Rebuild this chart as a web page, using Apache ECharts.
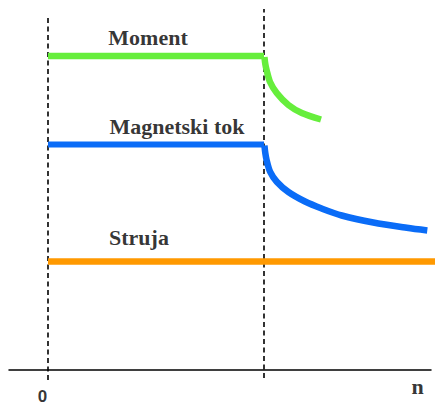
<!DOCTYPE html>
<html>
<head>
<meta charset="utf-8">
<script src="https://cdn.jsdelivr.net/npm/echarts@6/dist/echarts.min.js"></script>
<style>html,body{margin:0;padding:0;background:#fff;}#c{width:438px;height:405px;}</style>
</head>
<body>
<div id="c"></div>
<script>
// ---- data (x: speed n, break point n = 1; y: relative magnitude) ----
const seriesNames = ['Moment', 'Magnetski tok', 'Struja'];
const nBreak = 1;
const momentFlat = [[0, 3.14], [1, 3.14]];
const momentCurve = [[1.002, 3.13], [1.006, 3.06], [1.012, 3.00], [1.028, 2.88], [1.059, 2.77], [1.113, 2.65], [1.175, 2.57], [1.264, 2.505]];
const fluxFlat = [[0, 2.255], [1, 2.255]];
const fluxCurve = [[1.002, 2.245], [1.006, 2.17], [1.012, 2.10], [1.028, 1.983], [1.059, 1.883], [1.113, 1.78], [1.19, 1.685], [1.267, 1.615], [1.36, 1.545], [1.506, 1.475], [1.661, 1.422], [1.756, 1.395]];
const currentLine = [[0, 1.085], [1.806, 1.085]];
const refLine0 = [[0, -0.10], [0, 3.53]];
const refLineBreak = [[1, -0.08], [1, 3.61]];
const axisLabels = ['0', 'n'];

// ---- label anchors ----
const labelAnchors = [
  { name: 'Moment', value: [0.463, 3.33], font: 'serif' },
  { name: 'Magnetski tok', value: [0.597, 2.44], font: 'serif' },
  { name: 'Struja', value: [0.421, 1.33], font: 'serif' },
  { name: axisLabels[0], value: [-0.025, -0.26], font: 'sans' },
  { name: axisLabels[1], value: [1.711, -0.165], font: 'serif' }
];

const chart = echarts.init(document.getElementById('c'), null, { renderer: 'svg' });
const dashStyle = { color: '#000', width: 1.6, type: [5, 3.5] };
function lineSeries(data, color, width, smooth) {
  return {
    type: 'line', data: data, showSymbol: false, symbol: 'none', clip: false,
    smooth: smooth ? 0.3 : false,
    lineStyle: { color: color, width: width, cap: 'butt', join: 'round' },
    silent: true, animation: false, z: 3
  };
}
chart.setOption({
  animation: false,
  grid: { left: 9, right: 7, top: 0, bottom: 35 },
  xAxis: {
    type: 'value', min: -39 / 216, max: 383 / 216,
    axisLine: { show: true, onZero: true, lineStyle: { color: '#000', width: 1.5 } },
    axisTick: { show: false }, axisLabel: { show: false }, splitLine: { show: false }
  },
  yAxis: {
    type: 'value', min: 0, max: 3.7, show: false,
    axisLine: { show: false }, splitLine: { show: false }
  },
  series: [
    Object.assign(lineSeries(refLine0, '#000', 1.6, false), { lineStyle: dashStyle, z: 2 }),
    Object.assign(lineSeries(refLineBreak, '#000', 1.6, false), { lineStyle: dashStyle, z: 2 }),
    Object.assign(lineSeries(momentFlat, '#66ee3c', 6.5, false), { name: seriesNames[0] }),
    Object.assign(lineSeries(momentCurve, '#66ee3c', 6.5, true), { name: seriesNames[0] }),
    Object.assign(lineSeries(fluxFlat, '#0a6cf7', 6, false), { name: seriesNames[1] }),
    Object.assign(lineSeries(fluxCurve, '#0a6cf7', 6.5, true), { name: seriesNames[1] }),
    Object.assign(lineSeries(currentLine, '#ff9900', 6.5, false), { name: seriesNames[2] }),
    {
      type: 'scatter', symbolSize: 0, clip: false, silent: true, z: 5,
      data: labelAnchors.map(d => ({
        name: d.name, value: d.value,
        label: {
          show: true, position: 'inside', formatter: '{b}', color: '#000',
          fontFamily: d.font === 'serif' ? 'Liberation Serif' : 'Liberation Sans',
          fontWeight: 'bold', fontSize: d.font === 'serif' ? 22 : 17,
          align: 'center', verticalAlign: 'middle'
        }
      }))
    }
  ]
});
</script>
</body>
</html>
